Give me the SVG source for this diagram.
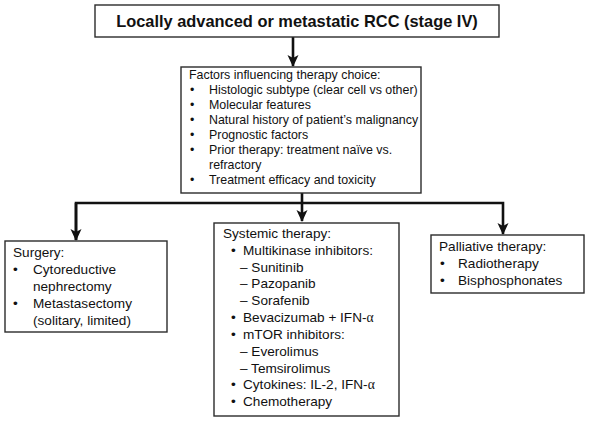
<svg xmlns="http://www.w3.org/2000/svg" width="590" height="422" viewBox="0 0 590 422">
<style>
.box{fill:#fff;stroke:#2b2b2b;stroke-width:1.4}
.t{font-family:"Liberation Sans",Arial,sans-serif;fill:#111}
.f{font-size:12.4px}
.s{font-size:13.6px}
.title{font-size:16.4px;font-weight:bold}
.c{fill:none;stroke:#111;stroke-width:2.6}
.g{font-family:"Liberation Serif","Times New Roman",serif}
</style>
<defs>
<marker id="ah" markerUnits="userSpaceOnUse" viewBox="0 0 12 12" refX="11" refY="6" markerWidth="12" markerHeight="12" orient="auto">
<path d="M0,0.5 L12,6 L0,11.5 L3,6 z" fill="#111"/>
</marker>
</defs>
<rect width="590" height="422" fill="#fff"/>
<g id="connectors">
<line class="c" x1="293" y1="37" x2="293" y2="66" marker-end="url(#ah)"/>
<line class="c" x1="302" y1="193" x2="302" y2="221" marker-end="url(#ah)"/>
<polyline class="c" points="76,240 76,203 503,203 503,234" marker-end="url(#ah)"/>
<line class="c" x1="76" y1="203" x2="76" y2="240" marker-end="url(#ah)"/>
</g>
<g id="top">
<rect class="box" x="95" y="5" width="404" height="32"/>
<text class="t title" x="297" y="27" text-anchor="middle">Locally advanced or metastatic RCC (stage IV)</text>
</g>
<g id="factors">
<rect class="box" x="181" y="67" width="240" height="126"/>
<text class="t f" x="189" y="79">Factors influencing therapy choice:</text>
<g class="t f">
<text x="190" y="94">•</text><text x="209" y="94">Histologic subtype (clear cell vs other)</text>
<text x="190" y="109">•</text><text x="209" y="109">Molecular features</text>
<text x="190" y="124">•</text><text x="209" y="124">Natural history of patient’s malignancy</text>
<text x="190" y="139">•</text><text x="209" y="139">Prognostic factors</text>
<text x="190" y="154">•</text><text x="209" y="154">Prior therapy: treatment naïve vs.</text>
<text x="209" y="169">refractory</text>
<text x="190" y="184">•</text><text x="209" y="184">Treatment efficacy and toxicity</text>
</g>
</g>
<g id="surgery">
<rect class="box" x="5" y="241" width="162" height="91"/>
<g class="t s">
<text x="13" y="257">Surgery:</text>
<text x="13" y="274">•</text><text x="33" y="274">Cytoreductive</text>
<text x="33" y="291">nephrectomy</text>
<text x="13" y="308">•</text><text x="33" y="308">Metastasectomy</text>
<text x="33" y="325">(solitary, limited)</text>
</g>
</g>
<g id="systemic">
<rect class="box" x="214" y="223" width="185" height="193"/>
<g class="t s">
<text x="223" y="238">Systemic therapy:</text>
<text x="231" y="255">•</text><text x="243" y="255">Multikinase inhibitors:</text>
<text x="240" y="272">– Sunitinib</text>
<text x="240" y="288">– Pazopanib</text>
<text x="240" y="305">– Sorafenib</text>
<text x="231" y="322">•</text><text x="243" y="322">Bevacizumab + IFN-<tspan class="g">α</tspan></text>
<text x="231" y="339">•</text><text x="243" y="339">mTOR inhibitors:</text>
<text x="240" y="356">– Everolimus</text>
<text x="240" y="373">– Temsirolimus</text>
<text x="231" y="389">•</text><text x="243" y="389">Cytokines: IL-2, IFN-<tspan class="g">α</tspan></text>
<text x="231" y="406">•</text><text x="243" y="406">Chemotherapy</text>
</g>
</g>
<g id="palliative">
<rect class="box" x="431" y="235" width="153" height="58"/>
<g class="t s">
<text x="439" y="251">Palliative therapy:</text>
<text x="440" y="268">•</text><text x="458" y="268">Radiotherapy</text>
<text x="440" y="285">•</text><text x="458" y="285">Bisphosphonates</text>
</g>
</g>
</svg>
